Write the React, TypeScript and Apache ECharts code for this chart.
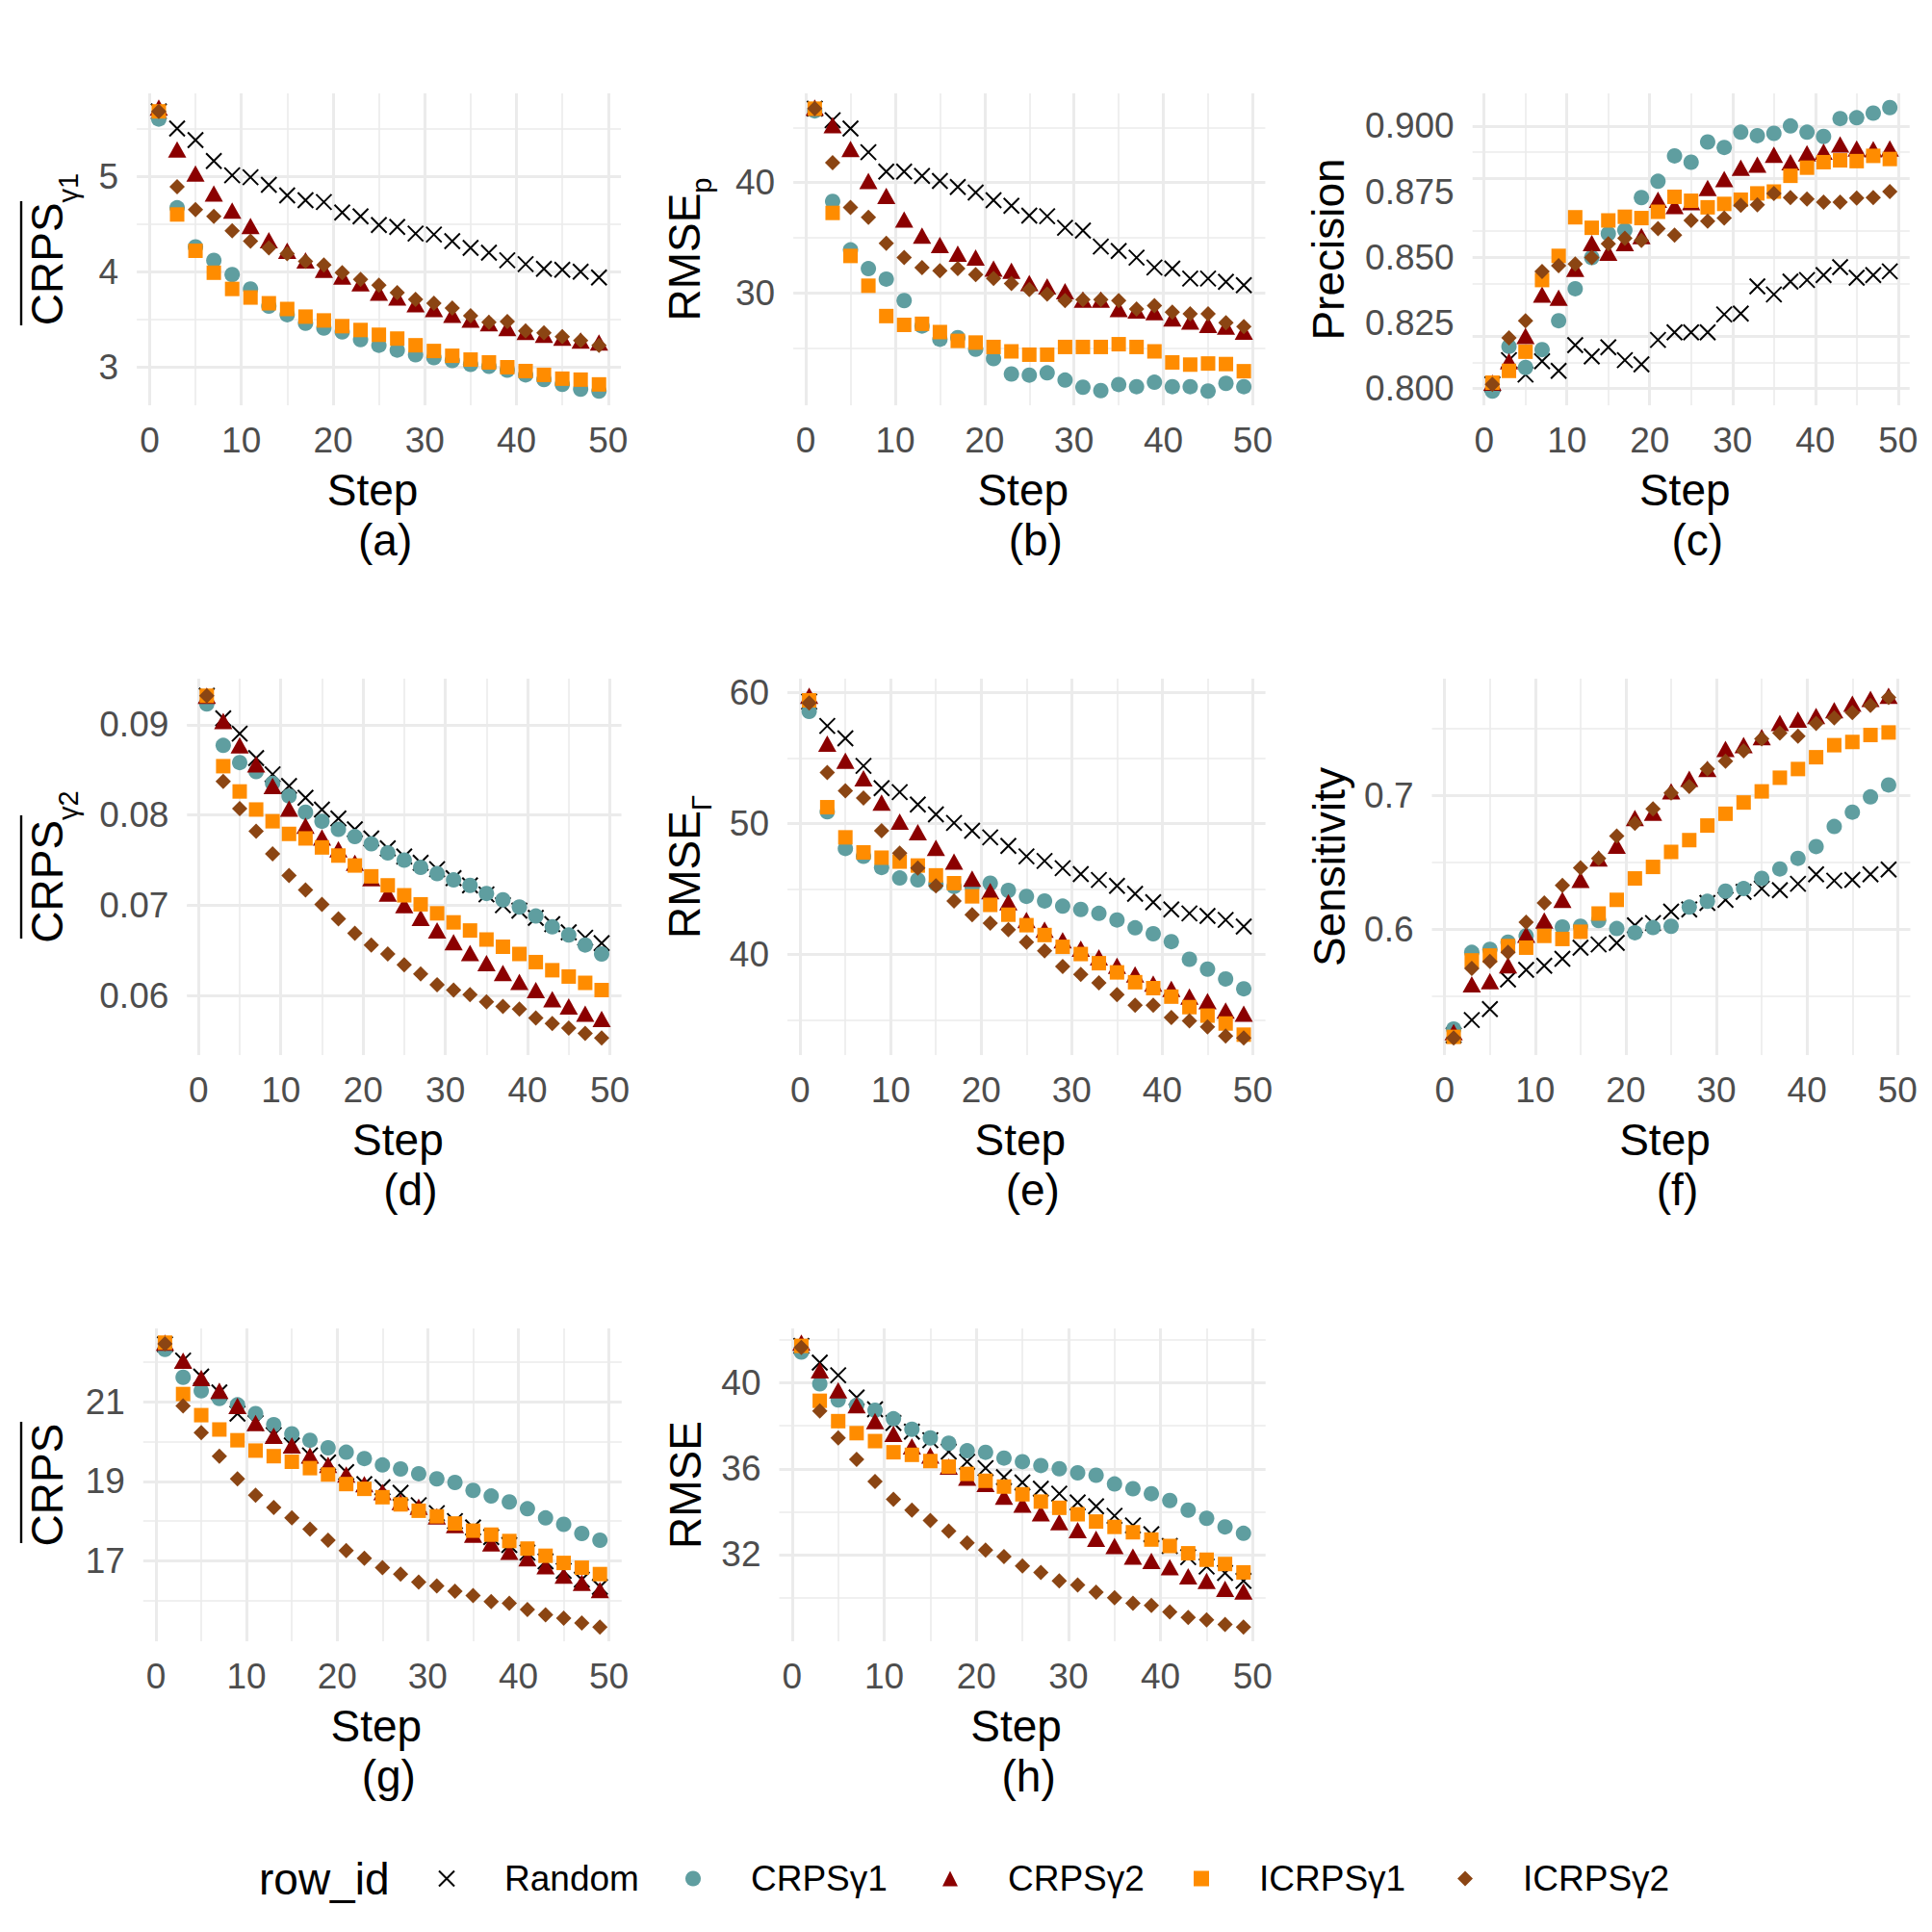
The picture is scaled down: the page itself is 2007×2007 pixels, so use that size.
import React, { useEffect, useRef } from "react";
import * as echarts from "echarts";

// ---------------- data ----------------
const steps = [1, 3, 5, 7, 9, 11, 13, 15, 17, 19, 21, 23, 25, 27, 29, 31, 33, 35, 37, 39, 41, 43, 45, 47, 49];
const seriesNames = ["Random", "CRPSγ1", "CRPSγ2", "ICRPSγ1", "ICRPSγ2"];
const xTicks = [0, 10, 20, 30, 40, 50];
const xMinorTicks = [5, 15, 25, 35, 45];

// (a) CRPS γ1
const aRandom = [5.68, 5.5, 5.38, 5.16, 5.01, 4.99, 4.91, 4.8, 4.75, 4.73, 4.62, 4.58, 4.49, 4.47, 4.4, 4.39, 4.32, 4.25, 4.2, 4.12, 4.08, 4.03, 4.02, 4.0, 3.94];
const aCrps1 = [5.6, 4.67, 4.26, 4.12, 3.97, 3.82, 3.64, 3.55, 3.46, 3.41, 3.37, 3.29, 3.23, 3.18, 3.13, 3.1, 3.07, 3.03, 3.01, 2.97, 2.92, 2.87, 2.82, 2.77, 2.75];
const aCrps2 = [5.72, 5.28, 5.03, 4.82, 4.64, 4.48, 4.33, 4.22, 4.12, 4.02, 3.95, 3.88, 3.78, 3.73, 3.66, 3.61, 3.55, 3.5, 3.46, 3.41, 3.37, 3.34, 3.31, 3.28, 3.26];
const aIcrps1 = [5.68, 4.6, 4.22, 3.99, 3.82, 3.73, 3.67, 3.61, 3.53, 3.49, 3.43, 3.39, 3.34, 3.3, 3.23, 3.17, 3.12, 3.08, 3.05, 3.0, 2.96, 2.92, 2.88, 2.87, 2.82];
const aIcrps2 = [5.68, 4.89, 4.65, 4.58, 4.43, 4.32, 4.25, 4.19, 4.11, 4.07, 3.99, 3.92, 3.86, 3.78, 3.71, 3.67, 3.62, 3.54, 3.47, 3.48, 3.38, 3.36, 3.32, 3.28, 3.23];
const aYTicks = [3, 4, 5];
const aYMinor = [3.5, 4.5, 5.5];

// (b) RMSE p
const bRandom = [46.7, 45.65, 44.9, 42.75, 41.0, 41.0, 40.6, 40.15, 39.6, 39.1, 38.4, 37.9, 37.0, 36.95, 35.9, 35.65, 34.2, 33.8, 33.2, 32.3, 32.2, 31.3, 31.3, 31.0, 30.7];
const bCrps1 = [46.5, 38.3, 33.9, 32.2, 31.25, 29.3, 27.0, 25.8, 25.95, 24.9, 24.05, 22.65, 22.55, 22.75, 22.1, 21.45, 21.15, 21.7, 21.5, 21.9, 21.5, 21.5, 21.1, 21.8, 21.5];
const bCrps2 = [46.8, 45.2, 43.05, 40.15, 38.8, 36.65, 35.2, 34.35, 33.55, 33.2, 32.2, 32.0, 30.9, 30.6, 30.15, 29.4, 29.4, 28.55, 28.4, 28.25, 27.7, 27.4, 27.1, 26.95, 26.5];
const bIcrps1 = [46.7, 37.25, 33.35, 30.65, 27.9, 27.1, 27.2, 26.45, 25.65, 25.5, 25.1, 24.7, 24.4, 24.4, 25.1, 25.1, 25.1, 25.35, 25.1, 24.7, 23.7, 23.5, 23.6, 23.55, 22.9];
const bIcrps2 = [46.7, 41.8, 37.75, 36.85, 34.5, 33.2, 32.3, 32.0, 32.2, 31.65, 31.3, 30.85, 30.3, 29.9, 29.3, 29.4, 29.4, 29.3, 28.55, 28.85, 28.25, 28.1, 28.1, 27.3, 26.95];
const bYTicks = [30, 40];
const bYMinor = [25, 35, 45];

// (c) Precision
const cRandom = [0.8016, 0.8108, 0.8053, 0.8104, 0.8067, 0.8165, 0.8122, 0.8157, 0.8108, 0.8092, 0.8185, 0.8214, 0.8214, 0.8214, 0.8282, 0.8285, 0.8389, 0.8358, 0.8407, 0.8413, 0.8432, 0.8462, 0.8422, 0.8432, 0.8446];
const cCrps1 = [0.799, 0.816, 0.808, 0.8148, 0.8258, 0.838, 0.8499, 0.859, 0.8603, 0.8727, 0.8789, 0.8886, 0.8862, 0.8939, 0.8918, 0.8976, 0.8963, 0.8972, 0.9, 0.8976, 0.896, 0.9028, 0.9031, 0.9049, 0.907];
const cCrps2 = [0.8022, 0.8104, 0.82, 0.8358, 0.8346, 0.8456, 0.8554, 0.8517, 0.8554, 0.858, 0.8719, 0.8695, 0.871, 0.8764, 0.8798, 0.8841, 0.8853, 0.889, 0.8862, 0.8896, 0.8902, 0.893, 0.8914, 0.8911, 0.8914];
const cIcrps1 = [0.8022, 0.8067, 0.814, 0.8413, 0.8505, 0.8652, 0.8612, 0.864, 0.8654, 0.8649, 0.8673, 0.873, 0.8715, 0.869, 0.8703, 0.8719, 0.8743, 0.875, 0.881, 0.8841, 0.8862, 0.8869, 0.8866, 0.8886, 0.8874];
const cIcrps2 = [0.8016, 0.8193, 0.8258, 0.8446, 0.8468, 0.8474, 0.8499, 0.8551, 0.8572, 0.8564, 0.8609, 0.8584, 0.864, 0.8637, 0.8649, 0.8698, 0.87, 0.8743, 0.8727, 0.8722, 0.871, 0.871, 0.8725, 0.8727, 0.875];
const cYTicks = [0.8, 0.825, 0.85, 0.875, 0.9];
const cYMinor = [0.8125, 0.8375, 0.8625, 0.8875];

// (d) CRPS γ2
const dRandom = [0.0932, 0.0907, 0.089, 0.0863, 0.0845, 0.0832, 0.0819, 0.0806, 0.0796, 0.0784, 0.0774, 0.0763, 0.0754, 0.0747, 0.074, 0.073, 0.0722, 0.0712, 0.07, 0.0694, 0.0686, 0.0679, 0.067, 0.0664, 0.0658];
const dCrps1 = [0.0923, 0.0877, 0.0858, 0.0848, 0.0835, 0.0821, 0.0803, 0.0793, 0.0784, 0.0776, 0.0768, 0.0758, 0.075, 0.0742, 0.0735, 0.0728, 0.0722, 0.0713, 0.0706, 0.0698, 0.0688, 0.0676, 0.0667, 0.0656, 0.0646];
const dCrps2 = [0.0932, 0.0904, 0.0877, 0.0856, 0.0832, 0.0807, 0.0788, 0.0775, 0.0762, 0.0747, 0.073, 0.0713, 0.07, 0.0686, 0.0672, 0.0659, 0.0647, 0.0636, 0.0625, 0.0615, 0.0606, 0.0596, 0.0588, 0.058, 0.0574];
const dIcrps1 = [0.0932, 0.0854, 0.0826, 0.0806, 0.0793, 0.0779, 0.0774, 0.0764, 0.0755, 0.0744, 0.0732, 0.0722, 0.0711, 0.0701, 0.0691, 0.0681, 0.0672, 0.0662, 0.0654, 0.0646, 0.0637, 0.0628, 0.0621, 0.0614, 0.0606];
const dIcrps2 = [0.0932, 0.0837, 0.0807, 0.0782, 0.0757, 0.0733, 0.0717, 0.0701, 0.0685, 0.0669, 0.0656, 0.0646, 0.0634, 0.0624, 0.0612, 0.0606, 0.0601, 0.0593, 0.0588, 0.0585, 0.0575, 0.0569, 0.0564, 0.0558, 0.0553];
const dYTicks = [0.06, 0.07, 0.08, 0.09];
const dYMinor = [0.055, 0.065, 0.075, 0.085];

// (e) RMSE Γ
const eRandom = [59.3, 57.45, 56.5, 54.4, 52.7, 52.4, 51.45, 50.7, 50.05, 49.45, 48.95, 48.3, 47.5, 47.15, 46.6, 46.15, 45.7, 45.25, 44.65, 44.0, 43.45, 43.15, 42.95, 42.65, 42.15];
const eCrps1 = [58.55, 50.9, 48.1, 47.5, 46.65, 45.85, 45.7, 45.4, 45.2, 45.2, 45.45, 44.9, 44.45, 44.1, 43.7, 43.45, 43.15, 42.65, 42.05, 41.6, 41.0, 39.65, 38.9, 38.15, 37.4];
const eCrps2 = [59.75, 56.1, 54.8, 53.45, 51.6, 50.15, 49.35, 48.15, 47.1, 45.8, 44.85, 44.0, 42.65, 41.9, 41.1, 40.45, 39.8, 39.15, 38.5, 37.8, 37.4, 36.8, 36.45, 35.75, 35.5];
const eIcrps1 = [59.4, 51.25, 48.95, 47.8, 47.4, 47.1, 46.8, 46.05, 45.45, 44.45, 43.8, 43.05, 42.25, 41.5, 40.6, 40.05, 39.35, 38.65, 37.9, 37.45, 36.8, 36.0, 35.35, 34.75, 33.9];
const eIcrps2 = [59.2, 53.9, 52.5, 51.95, 49.45, 47.75, 46.6, 45.25, 44.1, 43.05, 42.4, 41.9, 40.95, 40.3, 39.1, 38.5, 37.85, 36.95, 36.15, 36.15, 35.2, 34.95, 34.5, 33.8, 33.65];
const eYTicks = [40, 50, 60];
const eYMinor = [35, 45, 55];

// (f) Sensitivity
const fRandom = [0.521, 0.5324, 0.5405, 0.5626, 0.5698, 0.5729, 0.5781, 0.5864, 0.5888, 0.59, 0.6031, 0.6048, 0.6133, 0.615, 0.6198, 0.6221, 0.6281, 0.6305, 0.6293, 0.6341, 0.6412, 0.6364, 0.6371, 0.6412, 0.6448];
const fCrps1 = [0.5257, 0.5829, 0.5852, 0.5905, 0.5952, 0.6014, 0.6019, 0.6024, 0.6067, 0.6007, 0.5976, 0.6014, 0.6024, 0.6167, 0.621, 0.6286, 0.6305, 0.6381, 0.6452, 0.6531, 0.6619, 0.6769, 0.6876, 0.699, 0.7079];
const fCrps2 = [0.5233, 0.559, 0.5614, 0.5733, 0.596, 0.6067, 0.6221, 0.6371, 0.6531, 0.6626, 0.6833, 0.6871, 0.7031, 0.7126, 0.7198, 0.7348, 0.7376, 0.7436, 0.7543, 0.7567, 0.7595, 0.7638, 0.7686, 0.7721, 0.7745];
const fIcrps1 = [0.5198, 0.5769, 0.5805, 0.5876, 0.5864, 0.5952, 0.5929, 0.5983, 0.6119, 0.6221, 0.6381, 0.6467, 0.6579, 0.6667, 0.6776, 0.6864, 0.6948, 0.7031, 0.7133, 0.7198, 0.7286, 0.7376, 0.74, 0.7452, 0.7471];
const fIcrps2 = [0.519, 0.571, 0.5762, 0.5829, 0.6055, 0.6198, 0.6329, 0.646, 0.6531, 0.6698, 0.6793, 0.69, 0.7019, 0.7067, 0.7198, 0.7257, 0.7333, 0.7424, 0.7467, 0.7443, 0.7538, 0.7579, 0.7619, 0.7674, 0.7733];
const fYTicks = [0.6, 0.7];
const fYMinor = [0.55, 0.65, 0.75];

// (g) CRPS
const gRandom = [22.44, 22.03, 21.63, 21.23, 20.7, 20.46, 20.16, 19.9, 19.65, 19.47, 19.23, 18.93, 18.85, 18.71, 18.4, 18.2, 18.0, 17.84, 17.6, 17.4, 17.21, 16.99, 16.75, 16.53, 16.35];
const gCrps1 = [22.31, 21.61, 21.27, 21.08, 20.92, 20.7, 20.42, 20.19, 20.03, 19.84, 19.73, 19.57, 19.41, 19.31, 19.19, 19.06, 18.97, 18.77, 18.63, 18.48, 18.31, 18.08, 17.92, 17.69, 17.52];
const gCrps2 = [22.48, 22.03, 21.59, 21.27, 20.89, 20.46, 20.14, 19.9, 19.65, 19.41, 19.17, 18.93, 18.73, 18.48, 18.36, 18.12, 17.9, 17.66, 17.44, 17.23, 17.07, 16.87, 16.63, 16.45, 16.27];
const gIcrps1 = [22.48, 21.19, 20.66, 20.3, 20.03, 19.77, 19.63, 19.49, 19.33, 19.17, 18.93, 18.81, 18.6, 18.42, 18.26, 18.12, 17.94, 17.76, 17.66, 17.5, 17.31, 17.13, 16.95, 16.83, 16.67];
const gIcrps2 = [22.45, 20.89, 20.22, 19.63, 19.06, 18.65, 18.34, 18.08, 17.8, 17.52, 17.26, 17.07, 16.83, 16.67, 16.47, 16.37, 16.24, 16.13, 15.98, 15.94, 15.78, 15.65, 15.56, 15.44, 15.34];
const gYTicks = [17, 19, 21];
const gYMinor = [16, 18, 20, 22];

// (h) RMSE
const hRandom = [41.73, 40.95, 40.36, 39.32, 38.77, 38.13, 37.73, 37.33, 36.8, 36.33, 36.03, 35.61, 35.36, 35.07, 34.84, 34.43, 34.25, 33.81, 33.36, 32.95, 32.4, 31.88, 31.44, 31.14, 30.77];
const hCrps1 = [41.44, 39.96, 39.21, 38.96, 38.73, 38.33, 37.84, 37.44, 37.19, 36.84, 36.77, 36.5, 36.33, 36.15, 36.0, 35.81, 35.7, 35.29, 35.07, 34.84, 34.52, 34.07, 33.69, 33.29, 32.99];
const hCrps2 = [41.88, 40.59, 39.66, 38.96, 38.22, 37.63, 37.04, 36.62, 36.1, 35.59, 35.29, 34.7, 34.33, 33.93, 33.51, 33.14, 32.74, 32.4, 31.91, 31.7, 31.41, 30.99, 30.77, 30.4, 30.28];
const hIcrps1 = [41.73, 39.17, 38.22, 37.66, 37.29, 36.77, 36.65, 36.36, 36.1, 35.76, 35.44, 35.17, 34.81, 34.47, 34.18, 33.88, 33.54, 33.29, 33.04, 32.7, 32.4, 32.06, 31.76, 31.56, 31.17];
const hIcrps2 = [41.66, 38.7, 37.44, 36.44, 35.41, 34.58, 34.07, 33.59, 33.1, 32.55, 32.21, 31.91, 31.47, 31.17, 30.77, 30.58, 30.25, 29.99, 29.73, 29.63, 29.33, 29.07, 28.95, 28.74, 28.62];
const hYTicks = [32, 36, 40];
const hYMinor = [30, 34, 38, 42];

// ---------------- layout / style ----------------
const FONT = "Liberation Sans, Arial, Helvetica, sans-serif";
const GRID_COLOR = "#EBEBEB";
const TICK_COLOR = "#4D4D4D";

const panels = [
  { cap: "(a)", yName: "{m|CRPS}{s|γ1}", vals: [aRandom, aCrps1, aCrps2, aIcrps1, aIcrps2], yt: aYTicks, ym: aYMinor, dec: -1, box: [142.1, 97, 503.0, 324], gap: 26 },
  { cap: "(b)", yName: "{m|RMSE}{q|p}", vals: [bRandom, bCrps1, bCrps2, bIcrps1, bIcrps2], yt: bYTicks, ym: bYMinor, dec: -1, box: [824.1, 97, 490.3, 324], gap: 54 },
  { cap: "(c)", yName: "{m|Precision}", vals: [cRandom, cCrps1, cCrps2, cIcrps1, cIcrps2], yt: cYTicks, ym: cYMinor, dec: 3, box: [1529.7, 97, 454.1, 324], gap: 127 },
  { cap: "(d)", yName: "{m|CRPS}{s|γ2}", vals: [dRandom, dCrps1, dCrps2, dIcrps1, dIcrps2], yt: dYTicks, ym: dYMinor, dec: 2, box: [194.3, 705, 451.2, 391], gap: 78 },
  { cap: "(e)", yName: "{m|RMSE}{q|Γ}", vals: [eRandom, eCrps1, eCrps2, eIcrps1, eIcrps2], yt: eYTicks, ym: eYMinor, dec: -1, box: [818.0, 705, 496.6, 391], gap: 48 },
  { cap: "(f)", yName: "{m|Sensitivity}", vals: [fRandom, fCrps1, fCrps2, fIcrps1, fIcrps2], yt: fYTicks, ym: fYMinor, dec: 1, box: [1487.5, 705, 497.0, 391], gap: 84 },
  { cap: "(g)", yName: "{m|CRPS}", vals: [gRandom, gCrps1, gCrps2, gIcrps1, gIcrps2], yt: gYTicks, ym: gYMinor, dec: -1, box: [148.8, 1380, 497.0, 325], gap: 77 },
  { cap: "(h)", yName: "{m|RMSE}", vals: [hRandom, hCrps1, hCrps2, hIcrps1, hIcrps2], yt: hYTicks, ym: hYMinor, dec: -1, box: [809.5, 1380, 505.2, 325], gap: 75 },
];

const symbolStyles: any[] = [
  { symbol: "path://M0,0L10,10M10,0L0,10", symbolSize: 16, itemStyle: { color: "#000000", borderColor: "#000000", borderWidth: 2, opacity: 1 } },
  { symbol: "circle", symbolSize: 16, itemStyle: { color: "#5F9EA0", opacity: 1 } },
  { symbol: "triangle", symbolSize: [19, 17], itemStyle: { color: "#8B0000", opacity: 1 } },
  { symbol: "rect", symbolSize: 15, itemStyle: { color: "#FF8C00", opacity: 1 } },
  { symbol: "diamond", symbolSize: [16, 16], itemStyle: { color: "#8B4513", opacity: 1 } },
];

const legendIconCenters = [463, 720, 987, 1248, 1522];
const LEGEND_ICON = 16;

function yExtent(arrs: number[][]) {
  let lo = Infinity;
  let hi = -Infinity;
  arrs.forEach((a) => a.forEach((v) => { lo = Math.min(lo, v); hi = Math.max(hi, v); }));
  const pad = (hi - lo) * 0.05;
  return [lo - pad, hi + pad];
}
function xExtent() {
  const lo = Math.min(...steps);
  const hi = Math.max(...steps);
  const pad = (hi - lo) * 0.05;
  return [lo - pad, hi + pad];
}

function buildOption() {
  const grid: any[] = [];
  const xAxis: any[] = [];
  const yAxis: any[] = [];
  const series: any[] = [];
  const [xmin, xmax] = xExtent();

  panels.forEach((p, gi) => {
    grid.push({ left: p.box[0], top: p.box[1], width: p.box[2], height: p.box[3], outerBoundsMode: "none", containLabel: false });
    xAxis.push({
      type: "value", gridIndex: gi, min: xmin, max: xmax,
      axisLine: { show: false }, axisTick: { show: false }, splitLine: { show: false },
      axisLabel: { customValues: xTicks, fontSize: 37, color: TICK_COLOR, fontFamily: FONT, margin: 18 },
      name: "{t|Step}\n{c|" + p.cap + "}", nameLocation: "middle", nameGap: 62,
      nameTextStyle: {
        fontFamily: FONT, color: "#000",
        rich: {
          t: { fontSize: 46, lineHeight: 52, fontFamily: FONT, color: "#000", padding: [0, 13, 0, 0] },
          c: { fontSize: 46, lineHeight: 52, fontFamily: FONT, color: "#000", padding: [0, 0, 0, 13] },
        },
      },
    });
    const [ymin, ymax] = yExtent(p.vals);
    yAxis.push({
      type: "value", gridIndex: gi, min: ymin, max: ymax,
      axisLine: { show: false }, axisTick: { show: false }, splitLine: { show: false },
      axisLabel: {
        customValues: p.yt, fontSize: 37, color: TICK_COLOR, fontFamily: FONT, margin: 19,
        formatter: (v: number) => (p.dec >= 0 ? v.toFixed(p.dec) : String(Math.round(v * 1000) / 1000)),
      },
      name: p.yName, nameLocation: "middle", nameRotate: 90, nameGap: p.gap,
      nameTextStyle: {
        fontFamily: FONT, color: "#000",
        rich: {
          m: { fontSize: 46, lineHeight: 46, fontFamily: FONT, color: "#000", verticalAlign: "top" },
          s: { fontSize: 29, lineHeight: 90, fontFamily: FONT, color: "#000", verticalAlign: "middle" },
          q: { fontSize: 29, lineHeight: 82, fontFamily: FONT, color: "#000", verticalAlign: "middle" },
        },
      },
    });

    const gridLines: any[] = [];
    xTicks.forEach((v) => gridLines.push({ xAxis: v, lineStyle: { width: 3, color: GRID_COLOR, type: "solid" } }));
    xMinorTicks.forEach((v) => gridLines.push({ xAxis: v, lineStyle: { width: 1.6, color: GRID_COLOR, type: "solid" } }));
    p.yt.forEach((v) => gridLines.push({ yAxis: v, lineStyle: { width: 3, color: GRID_COLOR, type: "solid" } }));
    p.ym.forEach((v) => gridLines.push({ yAxis: v, lineStyle: { width: 1.6, color: GRID_COLOR, type: "solid" } }));

    p.vals.forEach((vals, si) => {
      const s: any = {
        type: "scatter", name: seriesNames[si], xAxisIndex: gi, yAxisIndex: gi,
        data: steps.map((x, i) => [x, vals[i]]),
        symbol: symbolStyles[si].symbol, symbolSize: symbolStyles[si].symbolSize,
        itemStyle: symbolStyles[si].itemStyle,
        z: 3 + si, silent: true, emphasis: { disabled: true },
      };
      if (si === 0) {
        s.markLine = {
          silent: true, z: 1, symbol: ["none", "none"], label: { show: false },
          emphasis: { disabled: true }, animation: false, data: gridLines,
        };
      }
      series.push(s);
    });
  });

  const legend = seriesNames.map((n, i) => ({
    data: [n], left: legendIconCenters[i] - LEGEND_ICON / 2, top: 1933, orient: "horizontal",
    itemWidth: LEGEND_ICON, itemHeight: LEGEND_ICON, itemGap: 0, padding: 0, selectedMode: false,
    itemStyle: { opacity: 1 },
    textStyle: { fontSize: 37, color: "#000", fontFamily: FONT, padding: [0, 0, 0, 60 - LEGEND_ICON / 2 - 5] },
  }));

  const graphic: any[] = [
    { type: "text", left: 269, top: 1929, style: { text: "row_id", fontSize: 46, fontFamily: FONT, fill: "#000" } },
    { type: "line", shape: { x1: 22, y1: 209, x2: 22, y2: 338 }, style: { stroke: "#000", lineWidth: 2.4 } },
    { type: "line", shape: { x1: 22, y1: 847, x2: 22, y2: 975 }, style: { stroke: "#000", lineWidth: 2.4 } },
    { type: "line", shape: { x1: 22, y1: 1477, x2: 22, y2: 1603 }, style: { stroke: "#000", lineWidth: 2.4 } },
  ];

  return { animation: false, backgroundColor: "#FFFFFF", grid, xAxis, yAxis, series, legend, graphic };
}

export default function App() {
  const ref = useRef<HTMLDivElement>(null);
  useEffect(() => {
    document.body.style.margin = "0";
    document.body.style.overflow = "hidden";
    const chart = echarts.init(ref.current as HTMLDivElement, null, { renderer: "svg" });
    chart.setOption(buildOption() as any);
    return () => chart.dispose();
  }, []);
  return <div ref={ref} style={{ width: 2007, height: 2007 }} />;
}
